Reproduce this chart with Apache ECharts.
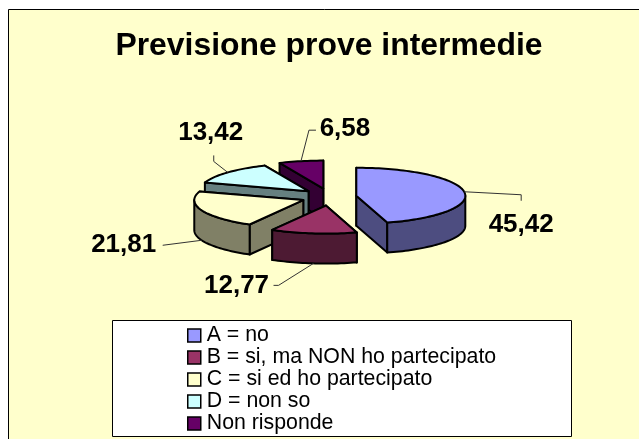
<!DOCTYPE html>
<html>
<head>
<meta charset="utf-8">
<style>
  html, body { margin: 0; padding: 0; background: #fff; }
  #chart { width: 639px; height: 439px; }
</style>
<script src="https://cdn.jsdelivr.net/npm/echarts@6/dist/echarts.min.js"></script>
</head>
<body>
<div id="chart"></div>
<script>
const categories = ['A = no', 'B = si, ma NON ho partecipato', 'C = si ed ho partecipato', 'D = non so', 'Non risponde'];
const values = [45.42, 12.77, 21.81, 13.42, 6.58];
const valueLabels = ['45,42', '12,77', '21,81', '13,42', '6,58'];
const topColors = ['#9999FF', '#993366', '#FFFFCC', '#CCFFFF', '#660066'];
const sideColors = ['#4D4D80', '#4D1A33', '#808066', '#668080', '#330033'];

// fake 3D pie geometry
const FONT = '"Liberation Sans", Arial, sans-serif';
const cx = 329, cy = 197, rx = 109, ry = 28, depth = 30;
const explodeX = 27.6, explodeY = 8.6;

// leader elbows and label centres, relative to the slice's rim anchor
const leaders = [
  { path: [[57, 3], [57, 9]], text: [57, 33] },
  { path: [[-35, 22], [-40, 22]], text: [-77, 22] },
  { path: [[-39, 5]], text: [-78, 5] },
  { path: [[-14, -11], [-14, -17]], text: [-17, -40] },
  { path: [[8, -31], [15, -31]], text: [44, -32] }
];

const total = values.reduce((a, b) => a + b, 0);
const startAngles = values.map((_, i) =>
  values.slice(0, i).reduce((a, b) => a + b, 0) / total * Math.PI * 2);

function slicePart(i) {
  const a0 = startAngles[i];
  const a1 = a0 + values[i] / total * Math.PI * 2;
  const mid = (a0 + a1) / 2;
  const ax = cx + explodeX * Math.sin(mid);
  const ay = cy - explodeY * Math.cos(mid);
  const rim = a => [ax + rx * Math.sin(a), ay - ry * Math.cos(a)];
  const down = p => [p[0], p[1] + depth];
  const arc = (from, to) => {
    const pts = [];
    const n = Math.max(2, Math.ceil((to - from) / 0.03));
    for (let k = 0; k <= n; k++) pts.push(rim(from + (to - from) * k / n));
    return pts;
  };
  const lineStyle = { stroke: '#000', lineWidth: 2, lineJoin: 'round' };
  const poly = (points, fill) => ({
    type: 'polygon', shape: { points }, style: Object.assign({ fill }, lineStyle)
  });
  const apex = [ax, ay];
  const side = sideColors[i];
  const children = [];

  // cut faces, the one further back first
  const faces = [a0, a1].sort((p, q) => rim(p)[1] - rim(q)[1]);
  faces.forEach(a => {
    children.push(poly([apex, rim(a), down(rim(a)), down(apex)], side));
  });

  // outer wall, only the part facing the viewer
  const wallFrom = Math.max(a0, Math.PI / 2);
  const wallTo = Math.min(a1, Math.PI * 1.5);
  if (wallTo > wallFrom) {
    const top = arc(wallFrom, wallTo);
    children.push(poly(top.concat(top.map(down).reverse()), side));
  }

  // top of the slice
  children.push(poly([apex].concat(arc(a0, a1)), topColors[i]));

  // leader line and value label
  const isFront = Math.cos(mid) < 0;
  const anchor = isFront ? down(rim(mid)) : rim(mid);
  const lay = leaders[i];
  const off = p => [anchor[0] + p[0], anchor[1] + p[1]];
  children.push({
    type: 'polyline',
    shape: { points: [anchor].concat(lay.path.map(off)) },
    style: { stroke: '#333', lineWidth: 1, fill: null }
  });
  const t = off(lay.text);
  children.push({
    type: 'text',
    style: {
      x: t[0], y: t[1], text: valueLabels[i], fill: '#000',
      font: 'bold 26px ' + FONT, align: 'center', verticalAlign: 'middle'
    }
  });
  return { type: 'group', children };
}

// painted back to front, legend keeps the category order
const paintOrder = [4, 3, 2, 0, 1];

const chart = echarts.init(document.getElementById('chart'));
chart.setOption({
  backgroundColor: '#fff',
  animation: false,
  title: {
    text: 'Previsione prove intermedie',
    left: 324,
    top: 25,
    textAlign: 'center',
    textStyle: { fontFamily: FONT, fontWeight: 'bold', fontSize: 31.9, color: '#000' }
  },
  legend: {
    data: categories,
    orient: 'vertical',
    left: 187,
    top: 325,
    padding: 0,
    itemWidth: 13,
    itemHeight: 13,
    itemGap: 1,
    icon: 'rect',
    selectedMode: false,
    itemStyle: { borderColor: '#000', borderWidth: 1.5 },
    textStyle: { fontFamily: FONT, fontSize: 21.3, color: '#000', lineHeight: 21, padding: [0, 0, 0, 1] }
  },
  graphic: [
    {
      type: 'rect', z: -10, silent: true,
      shape: { x: 8.5, y: 9.5, width: 700, height: 500 },
      style: { fill: '#FFFFCC', stroke: '#000', lineWidth: 1 }
    },
    {
      type: 'rect', z: -5, silent: true,
      shape: { x: 112.5, y: 320.5, width: 459, height: 116 },
      style: { fill: '#fff', stroke: '#000', lineWidth: 1 }
    }
  ],
  series: paintOrder.map(i => ({
    type: 'custom',
    name: categories[i],
    coordinateSystem: 'none',
    silent: true,
    itemStyle: { color: topColors[i] },
    data: [values[i]],
    renderItem: () => slicePart(i)
  }))
});
</script>
</body>
</html>
